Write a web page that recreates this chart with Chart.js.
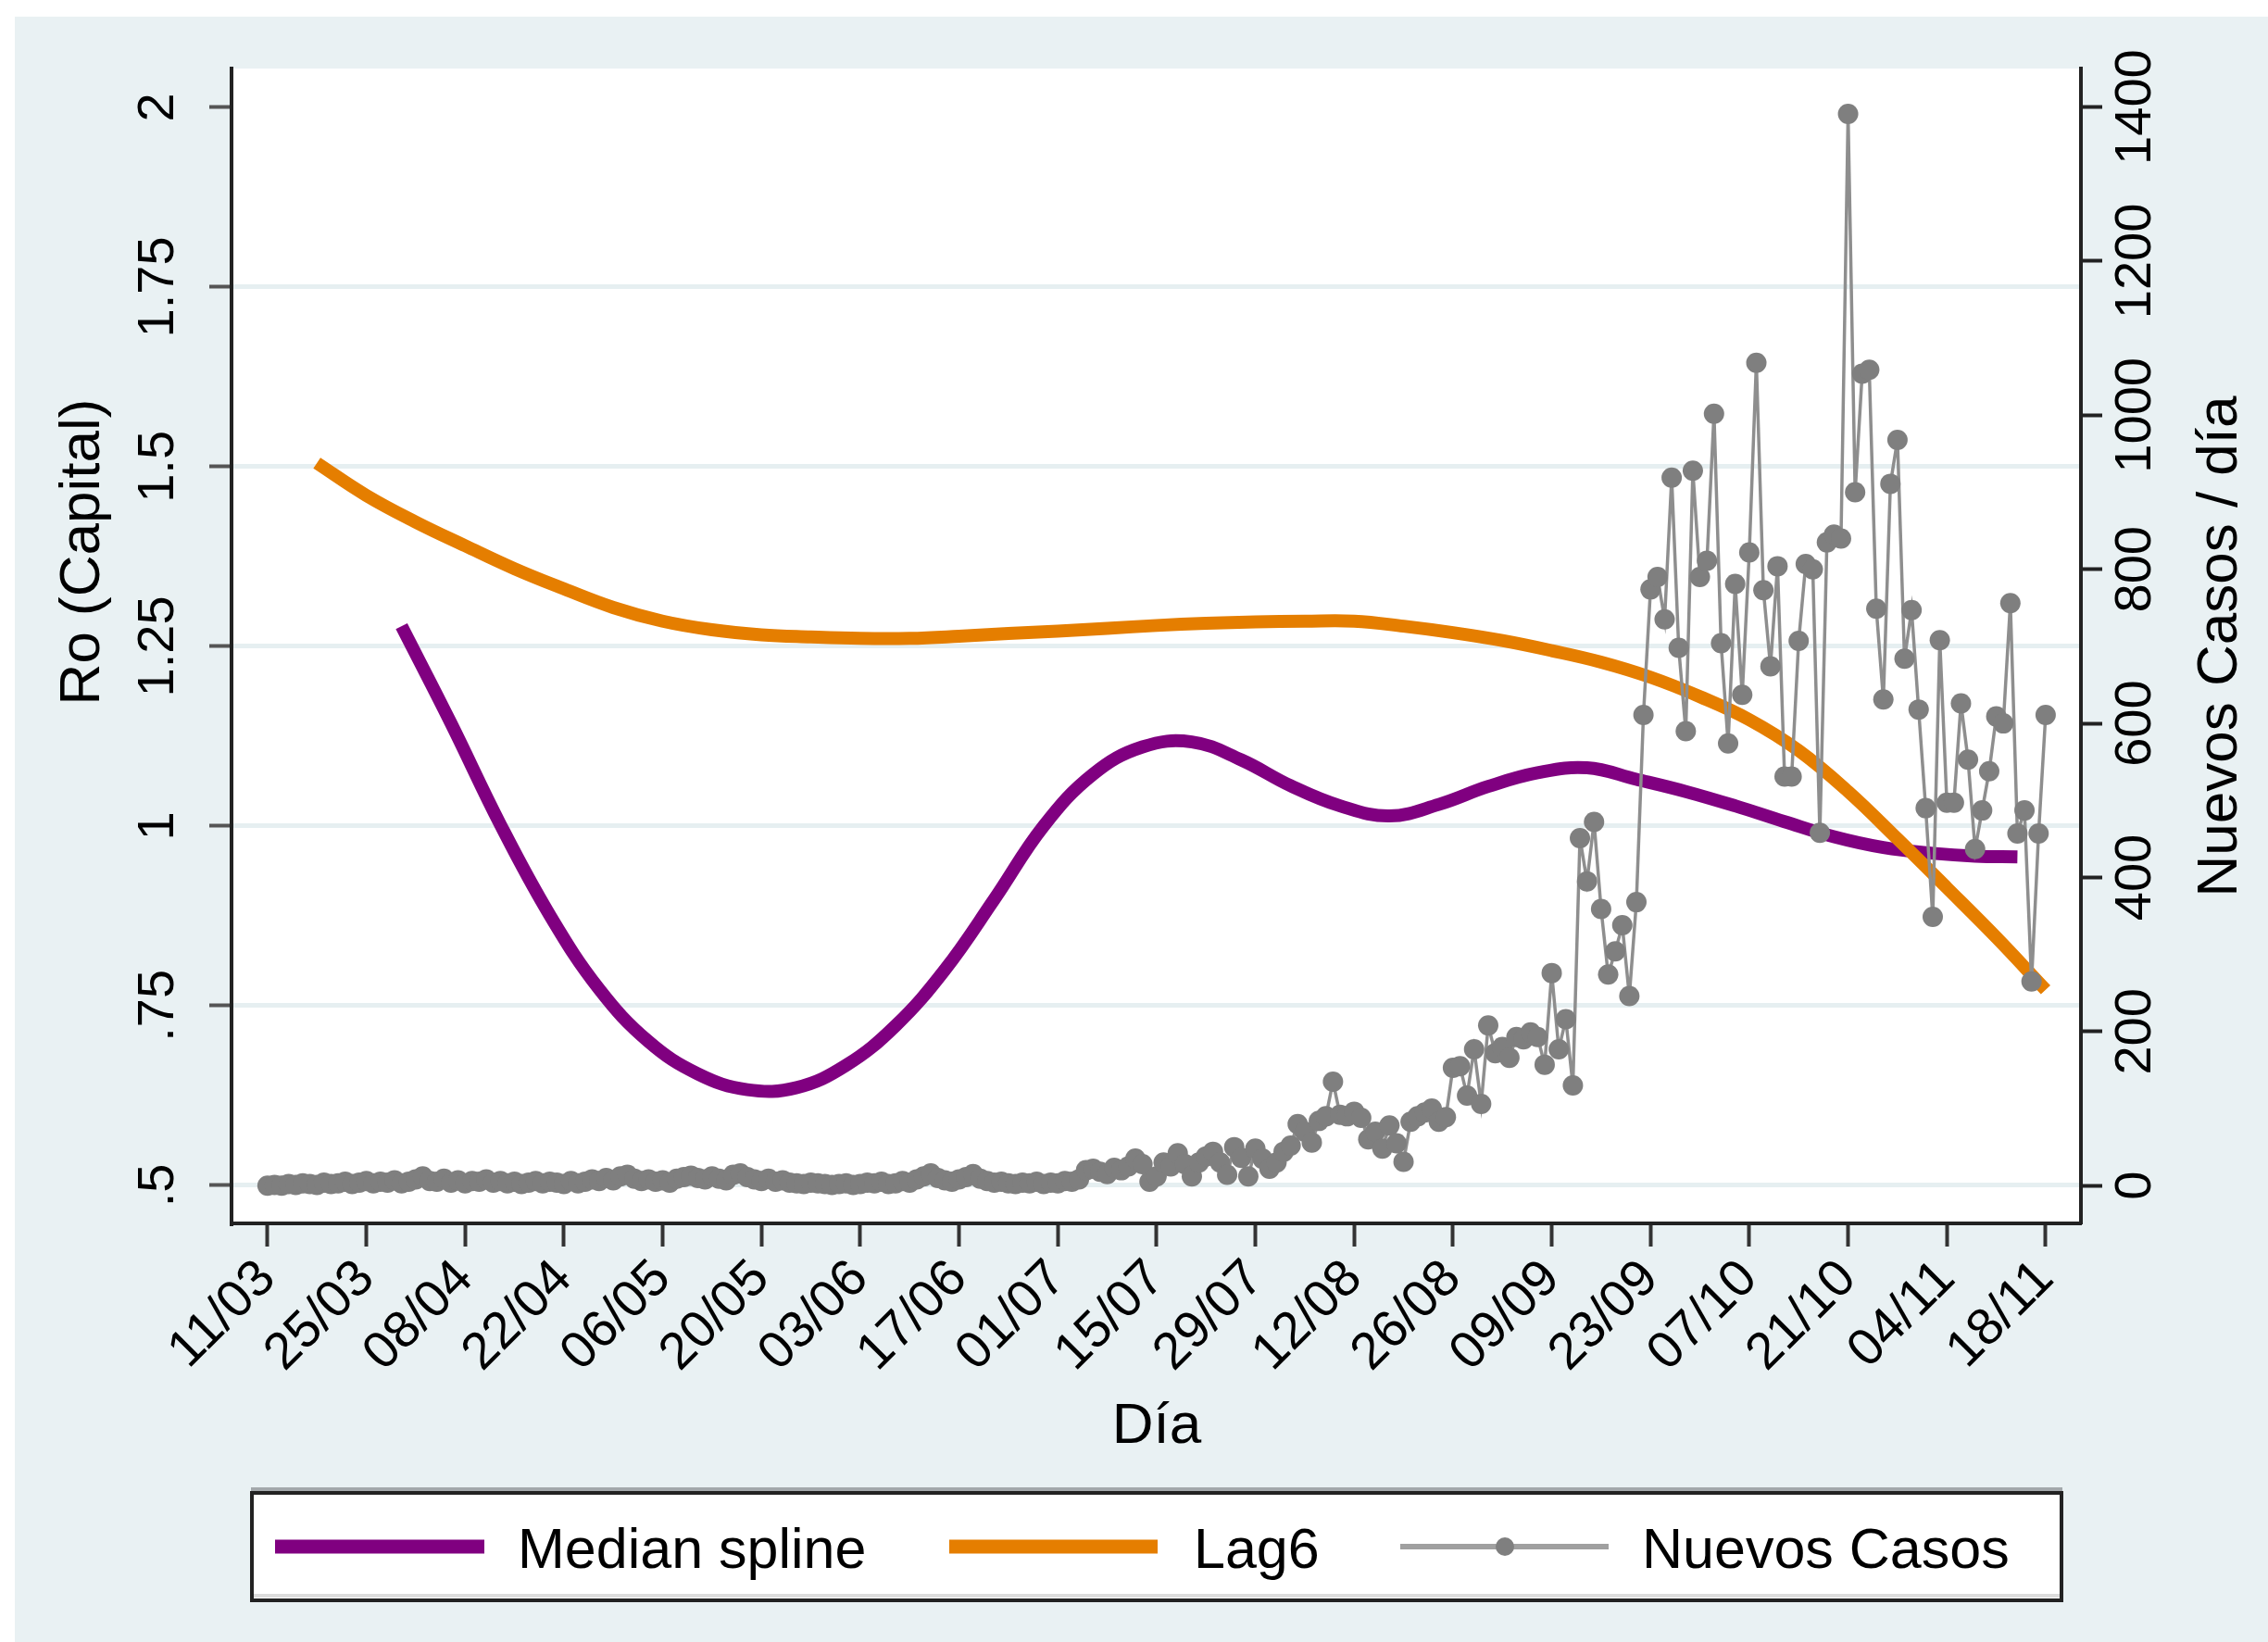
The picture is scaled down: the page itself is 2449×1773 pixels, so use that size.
<!DOCTYPE html>
<html>
<head>
<meta charset="utf-8">
<script src="https://cdn.jsdelivr.net/npm/chart.js@4.4.1/dist/chart.umd.min.js"></script>
<style>
html,body{margin:0;padding:0;background:#fff;overflow:hidden}
canvas{display:block}
</style>
</head>
<body>
<canvas id="c" width="2449" height="1773"></canvas>
<script>
// ---------- DATA ----------
// x axis: days since 11/03 (day 0)
const xTickDays = [0,14,28,42,56,70,84,98,112,126,140,154,168,182,196,210,224,238,252];
const xTickLabels = ['11/03','25/03','08/04','22/04','06/05','20/05','03/06','17/06','01/07','15/07','29/07','12/08','26/08','09/09','23/09','07/10','21/10','04/11','18/11'];

const roTicks = [0.5,0.75,1,1.25,1.5,1.75,2];
const roTickLabels = ['.5','.75','1','1.25','1.5','1.75','2'];

const casesTicks = [0,200,400,600,800,1000,1200,1400];
const casesTickLabels = ['0','200','400','600','800','1000','1200','1400'];

// Median spline (Ro), read every ~7 days
const splineDays = [19,26,33,40,47,54,61,68,75,82,89,96,103,110,117,124,131,138,145,152,159,166,173,180,187,194,201,208,215,222,229,236,242,248];
const splineRo   = [1.278,1.143,1.002,0.876,0.773,0.700,0.655,0.633,0.636,0.667,0.722,0.800,0.898,1.000,1.072,1.110,1.117,1.092,1.056,1.028,1.014,1.030,1.055,1.074,1.081,1.065,1.048,1.028,1.006,0.985,0.970,0.962,0.958,0.957];

// Lag6 (Ro), read every 7 days
const lagDays = [7,14,21,28,35,42,49,56,63,70,77,84,91,98,105,112,119,126,133,140,147,154,161,168,175,182,189,196,203,210,217,224,231,238,245,252];
const lagRo   = [1.505,1.46,1.423,1.39,1.358,1.33,1.304,1.285,1.273,1.266,1.263,1.261,1.261,1.264,1.268,1.271,1.275,1.279,1.282,1.284,1.285,1.285,1.278,1.269,1.258,1.244,1.228,1.207,1.180,1.148,1.105,1.048,0.982,0.914,0.845,0.772];

// Nuevos casos por día, from day 0 (11/03) to day 252 (18/11)
const newCases = [
  0,1,0,2,1,3,2,1,4,2,3,5,2,4,6,3,5,4,7,3,5,
  8,12,6,5,9,4,7,3,6,5,8,4,6,3,5,2,4,6,3,5,
  4,2,6,3,5,8,6,10,7,12,14,9,6,8,5,7,4,9,11,13,
  10,8,12,9,7,14,16,11,8,6,9,5,7,4,3,2,4,3,2,1,
  2,3,1,2,4,3,5,2,3,6,4,8,12,16,10,7,5,8,11,15,
  9,6,4,5,3,2,4,3,5,2,4,3,6,5,8,
  20,22,18,15,23,20,25,35,28,5,12,30,25,42,28,12,30,38,44,30,14,50,36,12,48,35,22,30,44,52,
  80,70,56,84,90,135,92,90,96,88,60,70,48,78,55,31,83,90,95,100,83,89,153,155,117,177,106,208,172,180,166,193,190,199,193,157,276,177,216,130,
  451,395,472,359,274,304,338,246,368,611,774,790,735,919,698,590,928,790,811,1002,704,574,781,637,822,1068,773,674,804,531,531,707,807,800,458,
  835,845,840,1391,900,1054,1059,749,631,911,968,684,747,618,490,349,708,497,497,626,553,437,487,538,609,600,756,457,487,265,457,611
];

const legendLabels = ['Median spline','Lag6','Nuevos Casos'];
const titles = {y:'Ro (Capital)', y1:'Nuevos Casos / día', x:'Día'};

// ---------- STYLE ----------
const FONT = "'Liberation Sans', Arial, Helvetica, sans-serif";
const BG = '#E9F1F3';
const PURPLE = '#800080';
const ORANGE = '#E57E00';
const GRAYLINE = '#8e8e8e';
const GRAYPT = '#7f7f7f';
const W = 2449, H = 1773;
const PLOT = {left:250, top:74, right:2247, bottom:1321};

const decorPlugin = {
  id: 'decor',
  beforeDraw(chart) {
    const ctx = chart.ctx, a = chart.chartArea;
    ctx.save();
    ctx.fillStyle = '#fff';
    ctx.fillRect(0, 0, chart.width, chart.height);
    ctx.fillStyle = BG;
    ctx.fillRect(16, 18, chart.width - 16, chart.height - 18);
    ctx.fillStyle = '#fff';
    ctx.fillRect(a.left, a.top, a.right - a.left, a.bottom - a.top);
    ctx.restore();
  },
  afterDraw(chart) {
    const ctx = chart.ctx;
    ctx.save();
    ctx.fillStyle = '#000';
    ctx.font = '62px ' + FONT;
    // left title
    ctx.save();
    ctx.translate(90, 596);
    ctx.rotate(-Math.PI / 2);
    ctx.textAlign = 'center'; ctx.textBaseline = 'middle';
    ctx.fillText(titles.y, 0, 0);
    ctx.restore();
    // right title
    ctx.save();
    ctx.translate(2398, 698);
    ctx.rotate(-Math.PI / 2);
    ctx.textAlign = 'center'; ctx.textBaseline = 'middle';
    ctx.fillText(titles.y1, 0, 0);
    ctx.restore();
    // x title
    ctx.textAlign = 'center'; ctx.textBaseline = 'alphabetic';
    ctx.fillText(titles.x, 1249, 1558);

    // legend box
    ctx.fillStyle = '#fff';
    ctx.fillRect(271, 1611, 1956, 117);
    ctx.fillStyle = '#a3a8ab';
    ctx.fillRect(271, 1606, 1956, 4);
    ctx.fillStyle = '#dcdcdc';
    ctx.fillRect(273, 1721, 1952, 4);
    ctx.strokeStyle = '#222';
    ctx.lineWidth = 4;
    ctx.strokeRect(272, 1612, 1954, 116);

    const ly = 1670;
    ctx.lineCap = 'butt';
    ctx.strokeStyle = PURPLE; ctx.lineWidth = 15;
    ctx.beginPath(); ctx.moveTo(297, ly); ctx.lineTo(523, ly); ctx.stroke();
    ctx.strokeStyle = ORANGE;
    ctx.beginPath(); ctx.moveTo(1025, ly); ctx.lineTo(1250, ly); ctx.stroke();
    ctx.strokeStyle = '#a0a0a0'; ctx.lineWidth = 6;
    ctx.beginPath(); ctx.moveTo(1512, ly); ctx.lineTo(1737, ly); ctx.stroke();
    ctx.fillStyle = GRAYPT;
    ctx.beginPath(); ctx.arc(1625, ly, 10, 0, Math.PI * 2); ctx.fill();

    ctx.fillStyle = '#000';
    ctx.font = '61px ' + FONT;
    ctx.textAlign = 'left'; ctx.textBaseline = 'alphabetic';
    ctx.fillText(legendLabels[0], 559, 1693);
    ctx.fillText(legendLabels[1], 1289, 1693);
    ctx.fillText(legendLabels[2], 1773, 1693);
    ctx.restore();
  }
};

const data = {
  datasets: [
    {
      label: legendLabels[0],
      data: splineDays.map((d, i) => ({x: d, y: splineRo[i]})),
      yAxisID: 'y',
      borderColor: PURPLE,
      borderWidth: 14,
      pointRadius: 0,
      tension: 0.4,
      borderCapStyle: 'butt',
      order: 3
    },
    {
      label: legendLabels[1],
      data: lagDays.map((d, i) => ({x: d, y: lagRo[i]})),
      yAxisID: 'y',
      borderColor: ORANGE,
      borderWidth: 14,
      pointRadius: 0,
      tension: 0.4,
      borderCapStyle: 'butt',
      order: 2
    },
    {
      label: legendLabels[2],
      data: newCases.map((v, i) => ({x: i, y: v})),
      yAxisID: 'y1',
      borderColor: GRAYLINE,
      borderWidth: 3.5,
      pointRadius: 11,
      pointBackgroundColor: GRAYPT,
      pointBorderWidth: 0,
      tension: 0,
      order: 1
    }
  ]
};

const tickFont = {family: FONT, size: 56};

new Chart(document.getElementById('c'), {
  type: 'line',
  data: data,
  plugins: [decorPlugin],
  options: {
    responsive: false,
    devicePixelRatio: 1,
    animation: false,
    layout: {padding: {top: PLOT.top, left: 0, right: 0, bottom: 0}},
    plugins: {legend: {display: false}, tooltip: {enabled: false}},
    scales: {
      x: {
        type: 'linear', position: 'bottom', min: -5.1, max: 257,
        afterBuildTicks: s => { s.ticks = xTickDays.map(v => ({value: v})); },
        afterFit: s => { s.height = H - PLOT.bottom; },
        ticks: {autoSkip: false, minRotation: 45, maxRotation: 45, padding: 2, color: '#000', font: tickFont,
                callback: (v, i) => xTickLabels[i]},
        grid: {drawOnChartArea: false, drawTicks: true, tickLength: 25, tickWidth: 4, tickColor: '#333', color: '#333'},
        border: {display: true, color: '#222', width: 4}
      },
      y: {
        type: 'linear', position: 'left', min: 0.447, max: 2.054,
        afterBuildTicks: s => { s.ticks = roTicks.map(v => ({value: v})); },
        afterFit: s => { s.width = PLOT.left; },
        ticks: {minRotation: 90, maxRotation: 90, crossAlign: 'center', padding: 0, color: '#000', font: tickFont,
                callback: (v, i) => roTickLabels[i]},
        grid: {
          color: c => (c.tick && c.tick.value === 2) ? 'rgba(0,0,0,0)' : '#E6EFF1',
          lineWidth: 5, drawTicks: true, tickLength: 24, tickWidth: 4, tickColor: '#555'
        },
        border: {display: true, color: '#222', width: 4}
      },
      y1: {
        type: 'linear', position: 'right', min: -49, max: 1450,
        afterBuildTicks: s => { s.ticks = casesTicks.map(v => ({value: v})); },
        afterFit: s => { s.width = W - PLOT.right; },
        ticks: {minRotation: 90, maxRotation: 90, crossAlign: 'center', padding: -26, color: '#000', font: tickFont,
                callback: (v, i) => casesTickLabels[i]},
        grid: {drawOnChartArea: false, drawTicks: true, tickLength: 23, tickWidth: 4, tickColor: '#222', color: '#222'},
        border: {display: true, color: '#222', width: 4}
      }
    }
  }
});
</script>
</body>
</html>
